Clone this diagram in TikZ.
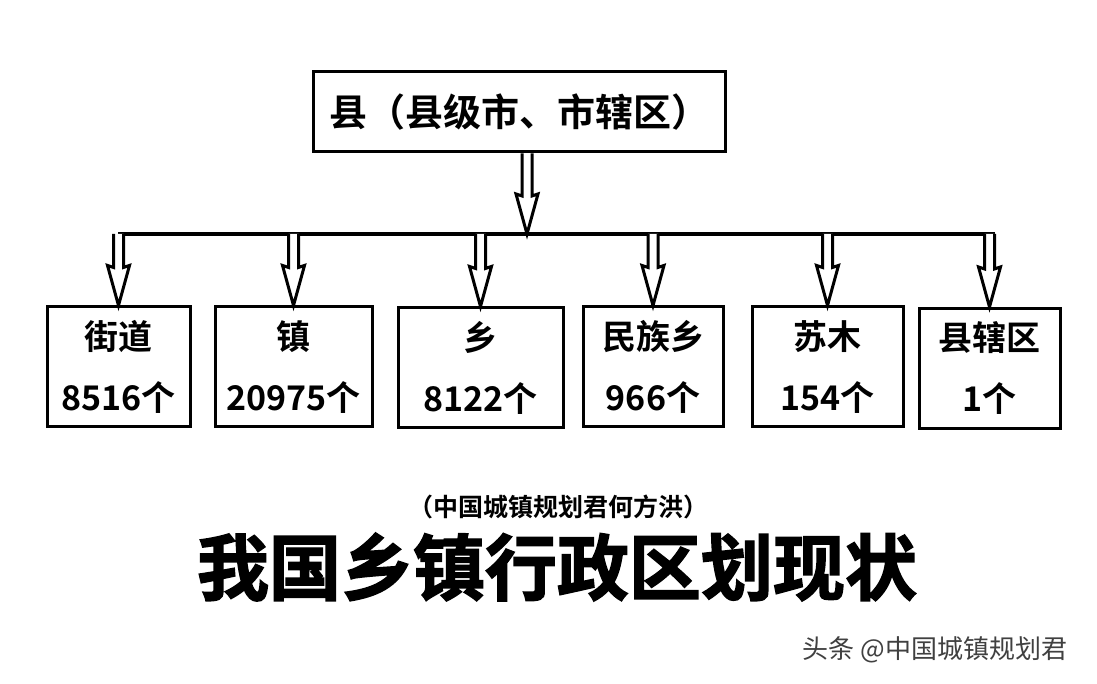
\documentclass[tikz,border=0pt]{standalone}
\usepackage{fontspec}
\newfontfamily\cjk{Noto Sans CJK SC}[BoldFont={Noto Sans CJK SC Bold}]
\newfontfamily\cjkheavy{Noto Sans CJK SC Bold}[FakeBold=2]
\usetikzlibrary{positioning,calc}

% hollow block arrow pointing down, from #1 to #2
\newcommand{\hollowdown}[2]{%
  \draw[harrow] let \p1=(#1), \p2=(#2) in
    (\x2-5pt,\y1) -- (\x2-5pt,\y2+38pt) -- (\x2-11pt,\y2+40pt) -- (\x2,\y2)
    -- (\x2+11pt,\y2+40pt) -- (\x2+5pt,\y2+38pt) -- (\x2+5pt,\y1);}

\begin{document}
\begin{tikzpicture}[
        x=1pt, y=1pt,
        box/.style = {draw, line width=3pt, minimum width=#1, minimum height=120pt,
                      align=center, font=\cjk\bfseries\fontsize{34}{61}\selectfont,
                      inner sep=0pt},
        harrow/.style = {line width=3pt, fill=white, line join=miter}
    ]
    \useasboundingbox (0,0) rectangle (1097,684);

    \node[draw, line width=3pt, minimum width=412pt, minimum height=80pt,
          font=\cjk\bfseries\fontsize{38}{40}\selectfont, inner sep=0pt]
          (county) at (519,572) {县（县级市、市辖区）};

    % horizontal bar
    \coordinate (barL) at (118,450);
    \coordinate (barR) at (995,450);
    \coordinate (barM) at (527,450);
    \draw[line width=4pt] (barL) -- (barR);

    \node[box=143pt] (jiedao) at (118.5,317) {街道\\8516个};
    \node[box=157pt] (zhen)   at (293.5,317) {镇\\20975个};
    \node[box=165pt] (xiang)  at (480.5,316) {乡\\8122个};
    \node[box=140pt] (minzu)  at (653,317)   {民族乡\\966个};
    \node[box=151pt] (sumu)   at (827.5,317) {苏木\\154个};
    \node[box=141pt] (xiaqu)  at (989.5,315.5) {县辖区\\1个};

    \hollowdown{county.south}{barM}
    \foreach \b in {jiedao,zhen,xiang,minzu,sumu,xiaqu}
        \hollowdown{barL}{\b.north};

    % titles
    \node[font=\cjk\bfseries\fontsize{25}{27}\selectfont] (author) at (558,177) {（中国城镇规划君何方洪）};
    \node[font=\cjkheavy\fontsize{72}{76}\selectfont] (title) at (557,117) {我国乡镇行政区划现状};
    \node[font=\cjk\fontsize{26}{28}\selectfont, text=black!75] (mark) at (935,34) {头条 @中国城镇规划君};
\end{tikzpicture}
\end{document}
